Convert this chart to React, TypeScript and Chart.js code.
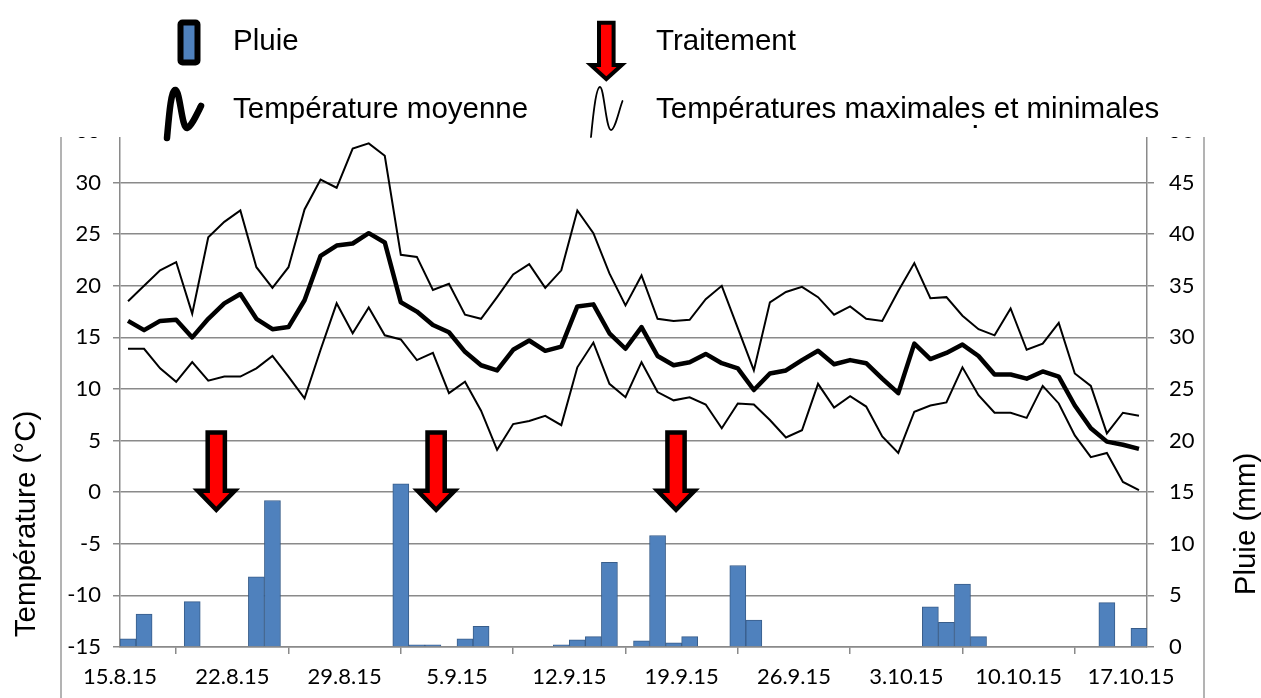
import React, { useEffect, useRef } from 'react';
import { Chart, registerables } from 'chart.js';

Chart.register(...registerables);

// ---- data ----
const days = [
  '15.8.15', '16.8.15', '17.8.15', '18.8.15', '19.8.15', '20.8.15', '21.8.15', '22.8.15', '23.8.15', '24.8.15',
  '25.8.15', '26.8.15', '27.8.15', '28.8.15', '29.8.15', '30.8.15', '31.8.15', '1.9.15', '2.9.15', '3.9.15',
  '4.9.15', '5.9.15', '6.9.15', '7.9.15', '8.9.15', '9.9.15', '10.9.15', '11.9.15', '12.9.15', '13.9.15',
  '14.9.15', '15.9.15', '16.9.15', '17.9.15', '18.9.15', '19.9.15', '20.9.15', '21.9.15', '22.9.15', '23.9.15',
  '24.9.15', '25.9.15', '26.9.15', '27.9.15', '28.9.15', '29.9.15', '30.9.15', '1.10.15', '2.10.15', '3.10.15',
  '4.10.15', '5.10.15', '6.10.15', '7.10.15', '8.10.15', '9.10.15', '10.10.15', '11.10.15', '12.10.15', '13.10.15',
  '14.10.15', '15.10.15', '16.10.15', '17.10.15',
];

const tickLabels = ['15.8.15', '22.8.15', '29.8.15', '5.9.15', '12.9.15', '19.9.15', '26.9.15', '3.10.15', '10.10.15', '17.10.15'];

const rain = [
  0.8, 3.2, 0, 0, 4.4, 0, 0, 0, 6.8, 14.2,
  0, 0, 0, 0, 0, 0, 0, 15.8, 0.2, 0.2,
  0, 0.8, 2.0, 0, 0, 0, 0, 0.2, 0.7, 1.0,
  8.2, 0, 0.6, 10.8, 0.4, 1.0, 0, 0, 7.9, 2.6,
  0, 0, 0, 0, 0, 0, 0, 0, 0, 0,
  3.9, 2.4, 6.1, 1.0, 0, 0, 0, 0, 0, 0,
  0, 4.3, 0, 1.8,
];

const tMean = [
  16.6, 15.7, 16.6, 16.7, 15.0, 16.8, 18.3, 19.2, 16.8, 15.8,
  16.0, 18.6, 22.9, 23.9, 24.1, 25.1, 24.2, 18.4, 17.5, 16.2,
  15.5, 13.6, 12.3, 11.8, 13.8, 14.7, 13.7, 14.1, 18.0, 18.2,
  15.4, 13.9, 16.0, 13.2, 12.3, 12.6, 13.4, 12.5, 12.0, 9.9,
  11.5, 11.8, 12.8, 13.7, 12.4, 12.8, 12.5, 11.0, 9.6, 14.4,
  12.9, 13.5, 14.3, 13.2, 11.4, 11.4, 11.0, 11.7, 11.2, 8.4,
  6.2, 4.9, 4.6, 4.2,
];

const tMax = [
  18.5, 20.0, 21.5, 22.3, 17.3, 24.7, 26.2, 27.3, 21.8, 19.8,
  21.8, 27.4, 30.3, 29.5, 33.3, 33.8, 32.6, 23.0, 22.8, 19.6,
  20.2, 17.2, 16.8, 18.9, 21.1, 22.1, 19.8, 21.5, 27.3, 25.1,
  21.2, 18.1, 21.0, 16.8, 16.6, 16.7, 18.7, 20.0, 15.9, 11.8,
  18.4, 19.4, 19.9, 18.9, 17.2, 18.0, 16.8, 16.6, 19.5, 22.2,
  18.8, 18.9, 17.1, 15.8, 15.2, 17.8, 13.8, 14.4, 16.4, 11.5,
  10.3, 5.7, 7.7, 7.4,
];

const tMin = [
  13.9, 13.9, 12.0, 10.7, 12.6, 10.8, 11.2, 11.2, 12.0, 13.2,
  11.2, 9.1, 13.8, 18.3, 15.4, 17.9, 15.2, 14.8, 12.8, 13.5,
  9.6, 10.7, 7.9, 4.1, 6.6, 6.9, 7.4, 6.5, 12.1, 14.5,
  10.5, 9.2, 12.6, 9.7, 8.9, 9.2, 8.5, 6.2, 8.6, 8.5,
  7.0, 5.3, 6.0, 10.5, 8.2, 9.3, 8.3, 5.4, 3.8, 7.8,
  8.4, 8.7, 12.1, 9.4, 7.7, 7.7, 7.2, 10.3, 8.6, 5.5,
  3.4, 3.8, 1.0, 0.2,
];

// treatment arrows: day index (from 15.8.15) where each arrow points
const treatmentDay = [5.5, 19.2, 34.15];
const arrowTopTemp = 6.0;
const arrowTipTemp = -2.0;

const GRID = '#8a8a8a';
const TICK_FONT = { family: 'Lato', size: 22 };
const TEXT_FONT = '29.5px "Liberation Sans", Arial, sans-serif';

function drawArrow(ctx: CanvasRenderingContext2D, cx: number, top: number, tip: number,
  shaftHalf: number, headHalf: number, headH: number, lw: number) {
  const base = tip - headH;
  ctx.beginPath();
  ctx.moveTo(cx - shaftHalf, top);
  ctx.lineTo(cx + shaftHalf, top);
  ctx.lineTo(cx + shaftHalf, base);
  ctx.lineTo(cx + headHalf, base);
  ctx.lineTo(cx, tip);
  ctx.lineTo(cx - headHalf, base);
  ctx.lineTo(cx - shaftHalf, base);
  ctx.closePath();
  ctx.fillStyle = '#ff0000';
  ctx.fill();
  ctx.lineJoin = 'miter';
  ctx.lineWidth = lw;
  ctx.strokeStyle = '#000';
  ctx.stroke();
}

const overlayPlugin = {
  id: 'overlay',
  afterDraw(chart: any) {
    const ctx: CanvasRenderingContext2D = chart.ctx;
    const xs = chart.scales.x;
    const ys = chart.scales.y;
    ctx.save();

    // treatment arrows
    treatmentDay.forEach((d) => {
      const cx = xs.getPixelForValue(d);
      const top = ys.getPixelForValue(arrowTopTemp) + 2.25;
      const tip = ys.getPixelForValue(arrowTipTemp) - 3;
      drawArrow(ctx, cx, top, tip, 8.6, 18.5, 19, 4.5);
    });

    // white band behind the legend
    ctx.fillStyle = '#fff';
    ctx.fillRect(0, 0, chart.width, 137);

    // outer frame lines
    ctx.strokeStyle = '#9a9a9a';
    ctx.lineWidth = 1.5;
    ctx.beginPath();
    ctx.moveTo(61, 137); ctx.lineTo(61, chart.height);
    ctx.moveTo(1204, 137); ctx.lineTo(1204, chart.height);
    ctx.stroke();

    // axis titles
    ctx.fillStyle = '#000';
    ctx.font = TEXT_FONT;
    ctx.textAlign = 'center';
    ctx.textBaseline = 'alphabetic';
    ctx.save();
    ctx.translate(35, 524);
    ctx.rotate(-Math.PI / 2);
    ctx.fillText('Température (°C)', 0, 0);
    ctx.restore();
    ctx.save();
    ctx.translate(1255, 524);
    ctx.rotate(-Math.PI / 2);
    ctx.fillText('Pluie (mm)', 0, 0);
    ctx.restore();

    // legend
    ctx.textAlign = 'left';
    ctx.fillText('Pluie', 233, 50);
    ctx.fillText('Température moyenne', 233, 118);
    ctx.fillText('Traitement', 656, 50);
    ctx.fillText('Températures maximales et minimales', 656, 118);
    const w = ctx.measureText('Températures maximale').width;
    ctx.fillRect(656 + w + 3, 125, 3, 3);

    // rain symbol
    ctx.beginPath();
    ctx.roundRect(180.5, 22.5, 17, 40, 2);
    ctx.fillStyle = '#4F81BD';
    ctx.fill();
    ctx.lineWidth = 6;
    ctx.strokeStyle = '#000';
    ctx.stroke();

    // mean temperature symbol (thick wave)
    ctx.lineCap = 'round';
    ctx.lineJoin = 'round';
    ctx.beginPath();
    ctx.moveTo(167, 138);
    ctx.bezierCurveTo(169, 116, 171, 89, 175.5, 90);
    ctx.bezierCurveTo(180, 91, 182, 129, 187, 128);
    ctx.bezierCurveTo(191, 127, 197, 114, 201, 106);
    ctx.lineWidth = 6.5;
    ctx.stroke();

    // max/min symbol (thin wave)
    ctx.beginPath();
    ctx.moveTo(591, 137);
    ctx.bezierCurveTo(593, 116, 596, 87, 600, 87);
    ctx.bezierCurveTo(604, 87, 606, 130, 611, 130);
    ctx.bezierCurveTo(615, 130, 619, 110, 622.5, 101);
    ctx.lineWidth = 1.8;
    ctx.stroke();
    ctx.lineCap = 'butt';

    // treatment symbol
    drawArrow(ctx, 606.3, 22.7, 79, 7.3, 15.5, 14, 4);

    ctx.restore();
  },
};

export default function App() {
  const ref = useRef<HTMLCanvasElement | null>(null);

  useEffect(() => {
    if (!ref.current) return;
    const xy = (arr: number[]) => arr.map((v, i) => ({ x: i, y: v }));
    const chart = new Chart(ref.current, {
      type: 'bar',
      data: {
        datasets: [
          {
            type: 'line', label: 'Température moyenne', data: xy(tMean), yAxisID: 'y',
            borderColor: '#000', borderWidth: 4.5, pointRadius: 0, tension: 0, order: 0,
            borderJoinStyle: 'round',
          } as any,
          {
            type: 'line', label: 'Températures maximales', data: xy(tMax), yAxisID: 'y',
            borderColor: '#000', borderWidth: 2, pointRadius: 0, tension: 0, order: 0,
          } as any,
          {
            type: 'line', label: 'Températures minimales', data: xy(tMin), yAxisID: 'y',
            borderColor: '#000', borderWidth: 2, pointRadius: 0, tension: 0, order: 0,
          } as any,
          {
            type: 'bar', label: 'Pluie', yAxisID: 'y1',
            data: rain.map((v, i) => ({ x: i, y: v > 0 ? v : null })),
            backgroundColor: '#4F81BD', borderColor: '#385D8A', borderWidth: 1,
            barPercentage: 1, categoryPercentage: 1, order: 1,
          } as any,
        ],
      },
      options: {
        responsive: false,
        animation: false,
        events: [],
        layout: { padding: { top: 131, left: 0, right: 0, bottom: 0 } },
        plugins: { legend: { display: false }, tooltip: { enabled: false } },
        scales: {
          x: {
            type: 'linear', min: -0.5, max: 63.5, offset: false,
            afterBuildTicks: (s: any) => { s.ticks = tickLabels.map((_, k) => ({ value: -0.5 + 7 * k })); },
            afterFit: (s: any) => { s.height = 51; },
            ticks: {
              autoSkip: false, maxRotation: 0, minRotation: 0, padding: 10,
              font: TICK_FONT, color: '#000',
              callback: (_v: any, i: number) => tickLabels[i],
            },
            grid: { drawOnChartArea: false, drawTicks: true, tickLength: 7, color: GRID, lineWidth: 1.5 },
            border: { display: true, color: GRID, width: 1.5 },
          },
          y: {
            position: 'left', min: -15, max: 35,
            afterFit: (s: any) => { s.width = 120; },
            ticks: { stepSize: 5, padding: 12, font: TICK_FONT, color: '#000' },
            grid: { color: GRID, lineWidth: 1.5, tickLength: 7 },
            border: { display: true, color: GRID, width: 1.5 },
          },
          y1: {
            position: 'right', min: 0, max: 50,
            afterFit: (s: any) => { s.width = 114; },
            ticks: { stepSize: 5, padding: 15, font: TICK_FONT, color: '#000' },
            grid: { drawOnChartArea: false, color: GRID, lineWidth: 1.5, tickLength: 7 },
            border: { display: true, color: GRID, width: 1.5 },
          },
        },
      } as any,
      plugins: [overlayPlugin],
    });
    return () => chart.destroy();
  }, []);

  return (
    <div style={{ position: 'absolute', left: 0, top: 0, width: 1261, height: 698, background: '#fff' }}>
      <canvas ref={ref} width={1261} height={698} style={{ display: 'block' }} />
    </div>
  );
}
